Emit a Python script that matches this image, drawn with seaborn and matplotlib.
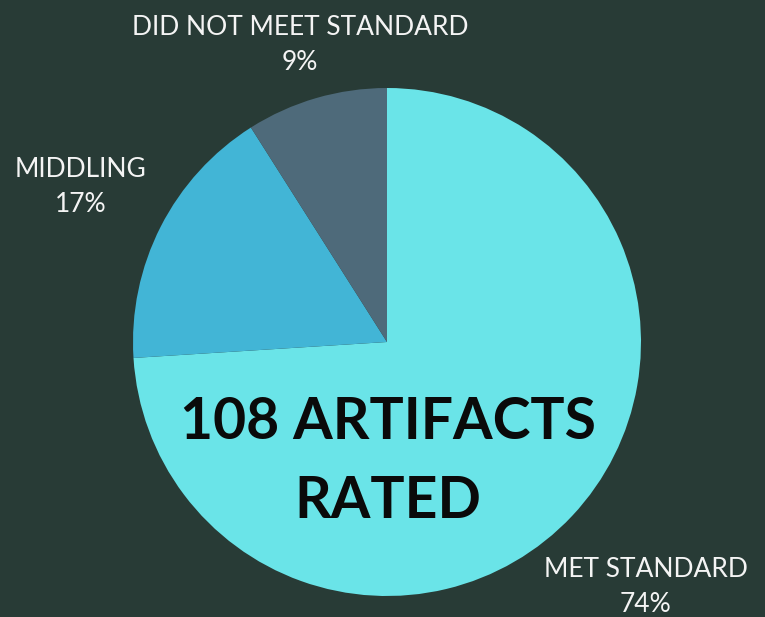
import seaborn as sns
import matplotlib.pyplot as plt

categories = ['MET STANDARD', 'MIDDLING', 'DID NOT MEET STANDARD']
shares = [74, 17, 9]
colors = ['#6AE4E8', '#42B5D6', '#4E6A7A']
total_rated = 108

bg = '#283B36'
sns.set_theme(style='white', rc={'figure.facecolor': bg, 'axes.facecolor': bg})
plt.rcParams['font.family'] = ['Lato', 'DejaVu Sans']

fig = plt.figure(figsize=(7.65, 6.17), dpi=100)
ax = fig.add_axes([0, 0, 1, 1])

ax.pie(shares, colors=sns.color_palette(colors), startangle=90, counterclock=False,
       center=(387, 275), radius=254, frame=True,
       wedgeprops=dict(linewidth=0))
ax.set_xlim(0, 765)
ax.set_ylim(0, 617)
ax.set_aspect('auto')
ax.axis('off')

# outside labels: (x, y of label centre)
label_pos = [(646, 30), (81, 430), (300, 572)]
for name, val, (x, y) in zip(categories, shares, label_pos):
    ax.text(x, y, f'{name}\n{val}%', ha='center', va='center', color='#F4F4F4',
            fontsize=19, fontweight='normal', linespacing=1.47)

ax.text(388, 155, f'{total_rated} ARTIFACTS\nRATED', ha='center', va='center',
        color='#0A0A0A', fontsize=41, fontweight='bold', linespacing=1.62)

fig.savefig('out.png', dpi=100, facecolor=bg)
